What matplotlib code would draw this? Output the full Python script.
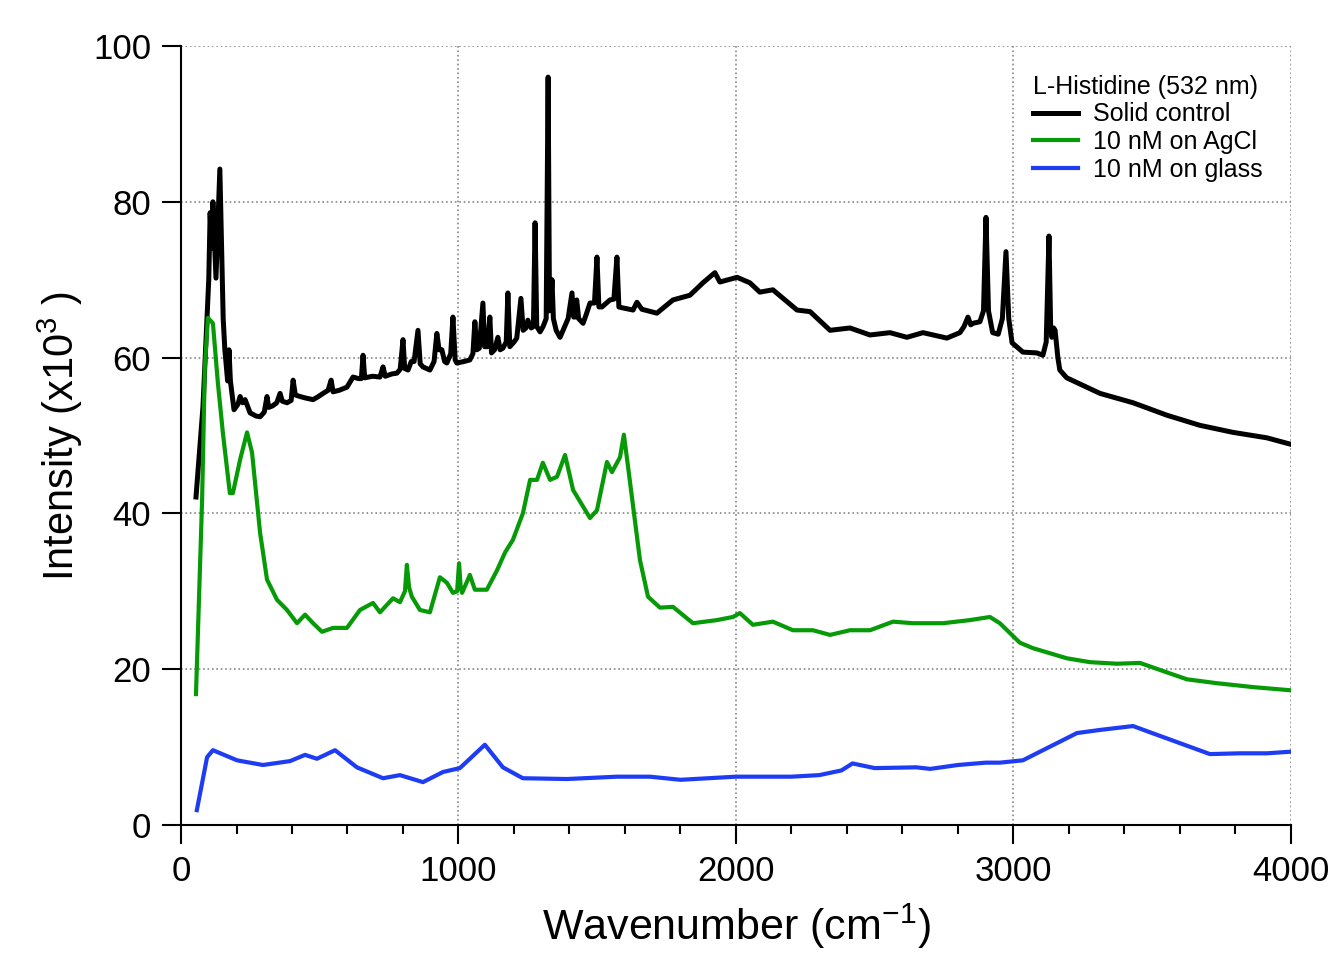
import matplotlib.pyplot as plt
import numpy as np

plt.rcParams['font.family'] = ['Liberation Sans', 'DejaVu Sans']
plt.rcParams['mathtext.default'] = 'regular'

# Solid control (black)
solid_x = [54, 79, 100, 105, 110, 115, 126, 140, 152, 158, 168, 173, 178, 191, 205, 213,
           222, 231, 249, 270, 285, 300, 310, 316, 330, 345, 357, 365, 382, 397, 404, 412,
           429, 450, 476, 495, 512, 530, 541, 548, 570, 598, 620, 640, 650, 656, 662, 690,
           717, 728, 736, 760, 778, 790, 800, 806, 818, 830, 840, 854, 862, 872, 897, 912,
           922, 930, 940, 950, 958, 972, 980, 988, 994, 1020, 1041, 1052, 1059, 1066, 1075,
           1088, 1094, 1104, 1113, 1119, 1130, 1142, 1150, 1160, 1172, 1178, 1185, 1200,
           1210, 1225, 1233, 1243, 1250, 1262, 1270, 1276, 1282, 1294, 1305, 1316, 1323,
           1328, 1333, 1337, 1342, 1352, 1366, 1395, 1409, 1415, 1420, 1426, 1433, 1449,
           1460, 1474, 1490, 1499, 1506, 1517, 1546, 1560, 1571, 1578, 1589, 1629, 1643,
           1661, 1715, 1773, 1834, 1881, 1924, 1942, 2004, 2050, 2086, 2133, 2220, 2267,
           2339, 2411, 2483, 2555, 2616, 2674, 2760, 2807, 2822, 2836, 2846, 2854, 2879,
           2892, 2901, 2910, 2925, 2945, 2960, 2973, 2983, 2995, 3034, 3084, 3106, 3118,
           3128, 3134, 3138, 3145, 3150, 3160, 3167, 3192, 3312, 3431, 3553, 3672, 3791,
           3913, 3996]
solid_y = [42.1, 53.6, 70.0, 78.6, 74.0, 80.0, 70.2, 84.2, 65.0, 61.0, 57.0, 61.0, 57.0,
           53.3, 54.0, 55.0, 54.2, 54.6, 52.9, 52.5, 52.4, 53.0, 55.0, 53.6, 53.8, 54.2,
           55.4, 54.4, 54.2, 54.5, 57.1, 55.2, 55.0, 54.8, 54.6, 55.0, 55.4, 55.8, 57.1,
           55.6, 55.8, 56.2, 57.5, 57.3, 57.3, 60.3, 57.4, 57.6, 57.5, 58.8, 57.6, 57.9,
           58.0, 58.5, 62.3, 58.6, 58.4, 59.5, 59.5, 63.5, 59.2, 58.8, 58.4, 59.5, 63.1,
           61.0, 61.0, 59.5, 59.3, 60.5, 65.2, 59.7, 59.3, 59.5, 59.7, 60.5, 64.6, 61.0,
           61.2, 67.0, 61.4, 61.4, 65.2, 60.6, 61.0, 62.6, 61.0, 61.2, 62.0, 68.3, 61.4,
           62.0, 62.5, 67.6, 63.5, 63.8, 64.8, 63.8, 64.0, 77.3, 64.0, 63.3, 64.0, 65.0,
           96.0, 66.0, 67.0, 70.0, 65.0, 63.5, 62.6, 65.0, 68.3, 65.2, 65.2, 67.4, 65.0,
           64.4, 65.5, 67.0, 67.0, 72.9, 66.5, 66.5, 67.4, 67.5, 72.9, 66.5, 66.4, 66.1,
           67.1, 66.2, 65.7, 67.4, 68.0, 69.6, 70.9, 69.7, 70.3, 69.6, 68.4, 68.7, 66.1,
           65.9, 63.5, 63.8, 62.9, 63.2, 62.6, 63.2, 62.5, 63.2, 64.0, 65.2, 64.2, 64.4,
           64.6, 66.0, 78.0, 66.0, 63.2, 63.0, 65.0, 73.6, 65.0, 61.9, 60.7, 60.6, 60.3,
           62.0, 75.6, 64.0, 62.6, 63.8, 63.5, 60.0, 58.4, 57.4, 55.4, 54.2, 52.6, 51.3,
           50.4, 49.7, 48.9]

# 10 nM on AgCl (green)
agcl_x = [54, 76, 86, 97, 115, 133, 151, 176, 187, 213, 238, 256, 285, 310, 346, 382,
          418, 447, 476, 508, 548, 598, 645, 692, 717, 764, 789, 807, 814, 822, 832, 861,
          897, 933, 958, 980, 995, 1002, 1008, 1013, 1041, 1059, 1102, 1139, 1168, 1196,
          1232, 1258, 1283, 1304, 1330, 1355, 1384, 1413, 1474, 1499, 1535, 1553, 1582,
          1596, 1611, 1654, 1683, 1726, 1773, 1845, 1931, 1989, 2014, 2061, 2133, 2205,
          2277, 2339, 2411, 2483, 2566, 2638, 2746, 2843, 2915, 2951, 3023, 3070, 3192,
          3276, 3373, 3456, 3528, 3625, 3733, 3863, 3996]
agcl_y = [16.8, 41.7, 58.8, 65.1, 64.4, 56.7, 50.3, 42.6, 42.6, 46.9, 50.4, 47.8, 37.5,
          31.5, 28.9, 27.6, 25.9, 27.0, 25.9, 24.8, 25.3, 25.3, 27.6, 28.5, 27.3, 29.1,
          28.6, 30.0, 33.4, 30.5, 29.3, 27.6, 27.3, 31.8, 31.1, 29.8, 30.0, 33.6, 30.5,
          29.8, 32.1, 30.2, 30.2, 32.7, 35.0, 36.6, 40.0, 44.3, 44.3, 46.5, 44.3, 44.7,
          47.5, 43.0, 39.4, 40.4, 46.6, 45.3, 47.2, 50.1, 46.0, 34.0, 29.3, 27.9, 28.0,
          25.9, 26.3, 26.7, 27.2, 25.7, 26.1, 25.0, 25.0, 24.4, 25.0, 25.0, 26.1, 25.9,
          25.9, 26.3, 26.7, 25.9, 23.4, 22.7, 21.4, 20.9, 20.7, 20.8, 19.9, 18.7, 18.2,
          17.7, 17.3]

# 10 nM on glass (blue)
glass_x = [57, 94, 115, 202, 295, 393, 447, 490, 555, 634, 728, 789, 872, 944, 1005,
           1095, 1160, 1232, 1391, 1571, 1690, 1800, 2000, 2200, 2300, 2380, 2420, 2500,
           2650, 2700, 2800, 2900, 2951, 3034, 3095, 3229, 3312, 3431, 3492, 3600, 3708,
           3816, 3913, 3996]
glass_y = [1.9, 8.7, 9.6, 8.3, 7.7, 8.2, 9.0, 8.5, 9.6, 7.4, 6.0, 6.4, 5.5, 6.8, 7.3,
           10.3, 7.4, 6.0, 5.9, 6.2, 6.2, 5.8, 6.2, 6.2, 6.4, 7.0, 7.9, 7.3, 7.4, 7.2, 7.7,
           8.0, 8.0, 8.3, 9.4, 11.8, 12.2, 12.7, 11.9, 10.5, 9.1, 9.2, 9.2, 9.4]

fig = plt.figure(figsize=(13.28, 9.74), dpi=100)
ax = fig.add_axes([0.1363, 0.153, 0.8358, 0.7998])

ax.plot(solid_x, solid_y, color='black', lw=3.6, label='Solid control')
ax.plot(agcl_x, agcl_y, color='#079a07', lw=3.0, label='10 nM on AgCl')
ax.plot(glass_x, glass_y, color='#1f3cf5', lw=3.0, label='10 nM on glass')

ax.set_xlim(0, 4000)
ax.set_ylim(0, 100)
ax.set_xticks([0, 1000, 2000, 3000, 4000])
ax.set_xticks(np.arange(0, 4001, 200), minor=True)
ax.set_yticks([0, 20, 40, 60, 80, 100])

ax.spines['top'].set_visible(False)
ax.spines['right'].set_visible(False)
ax.spines['left'].set_linewidth(1.5)
ax.spines['bottom'].set_linewidth(1.5)
ax.tick_params(which='major', direction='out', length=13.5, width=1.5, labelsize=25, pad=8)
ax.tick_params(which='minor', direction='out', length=6.5, width=1.5)
ax.grid(True, which='major', linestyle=':', color='#888888', lw=1.2)

ax.set_xlabel('Wavenumber (cm$^{-1}$)', fontsize=31, labelpad=10)
ax.set_ylabel('Intensity (x10$^{3}$ )', fontsize=30, labelpad=6)

leg = ax.legend(loc='upper right', frameon=False, fontsize=18,
                title='L-Histidine (532 nm)', title_fontsize=18,
                alignment='left', handlelength=1.8, handletextpad=0.6,
                labelspacing=0.15, borderaxespad=0.75)

fig.savefig('out.png', dpi=100)
